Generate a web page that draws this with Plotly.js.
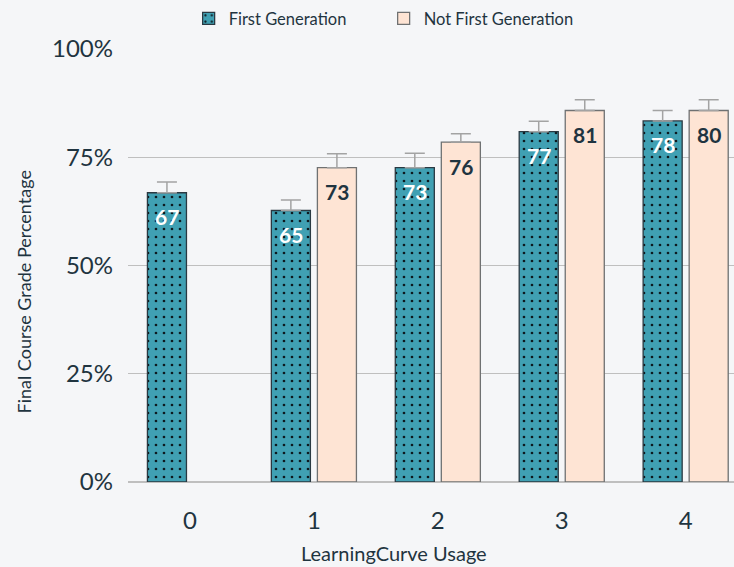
<!DOCTYPE html>
<html>
<head>
<meta charset="utf-8">
<script src="https://cdn.plot.ly/plotly-3.0.1.min.js"></script>
<style>html,body{margin:0;padding:0;background:#f5f6f8;overflow:hidden;}</style>
</head>
<body>
<div id="chart" style="width:734px;height:567px;"></div>
<script>
// Data
var categories = ['0', '1', '2', '3', '4'];
var firstGenValues = [66.8, 62.7, 72.6, 80.9, 83.4];
var firstGenErrors = [2.5, 2.4, 3.3, 2.4, 2.4];
var firstGenLabels = ['67', '65', '73', '77', '78'];
var notFirstGenValues = [null, 72.6, 78.5, 85.8, 85.8];
var notFirstGenErrors = [null, 3.2, 1.9, 2.5, 2.5];
var notFirstGenLabels = ['', '73', '76', '81', '80'];
var yTickVals = [0, 25, 50, 75, 100];
var yTickText = ['0%', '25%', '50%', '75%', '100%'];

var FONT = 'Lato, "Source Sans Pro", "Open Sans", sans-serif';
var DARK = '#1f3440';
var TEAL = '#40a0b3';

function zeros(a) { return a.map(function (v) { return v == null ? null : 0; }); }

var traceFG = {
  type: 'bar', name: 'First Generation', x: categories, y: firstGenValues,
  marker: {
    color: TEAL,
    line: {color: '#2a3942', width: 1.3},
    pattern: {shape: '.', fgcolor: '#0d1a20', bgcolor: TEAL, fillmode: 'replace', size: 8, solidity: 0.09}
  },
  error_y: {type: 'data', array: firstGenErrors, arrayminus: zeros(firstGenErrors), symmetric: false,
            color: '#a3a3a3', thickness: 1.5, width: 10},
  hoverinfo: 'skip'
};
var traceNFG = {
  type: 'bar', name: 'Not First Generation', x: categories, y: notFirstGenValues,
  marker: {color: '#fee4d4', line: {color: '#6f7172', width: 1.3}},
  error_y: {type: 'data', array: notFirstGenErrors, arrayminus: zeros(notFirstGenErrors), symmetric: false,
            color: '#a3a3a3', thickness: 1.5, width: 10},
  hoverinfo: 'skip'
};

var annotations = [];
categories.forEach(function (c, i) {
  if (firstGenValues[i] != null && firstGenLabels[i]) {
    annotations.push({x: c, y: firstGenValues[i], xref: 'x', yref: 'y', xshift: -23, yshift: -24,
      text: '<b>' + firstGenLabels[i] + '</b>', showarrow: false,
      font: {family: FONT, size: 21, color: '#ffffff'}, yanchor: 'middle'});
  }
  if (notFirstGenValues[i] != null && notFirstGenLabels[i]) {
    annotations.push({x: c, y: notFirstGenValues[i], xref: 'x', yref: 'y', xshift: 23, yshift: -24,
      text: '<b>' + notFirstGenLabels[i] + '</b>', showarrow: false,
      font: {family: FONT, size: 21, color: DARK}, yanchor: 'middle'});
  }
});
annotations.push({text: 'LearningCurve Usage', xref: 'paper', yref: 'paper', x: 0.439, y: -0.164,
  xanchor: 'center', yanchor: 'middle', showarrow: false, font: {family: FONT, size: 20, color: DARK}});
annotations.push({text: 'Final Course Grade Percentage', xref: 'paper', yref: 'paper', x: -0.17, y: 0.44,
  xanchor: 'center', yanchor: 'middle', textangle: -90, showarrow: false, font: {family: FONT, size: 18, color: DARK}});

var layout = {
  width: 734, height: 567,
  margin: {l: 128, r: 0, t: 49, b: 85},
  paper_bgcolor: '#f5f6f8', plot_bgcolor: '#f5f6f8',
  font: {family: FONT, color: DARK},
  barmode: 'group', bargap: 0.257, bargroupgap: 0.152,
  showlegend: true,
  legend: {orientation: 'h', xref: 'container', yref: 'container', x: 0.257, y: 0.967,
           xanchor: 'left', yanchor: 'middle', font: {family: FONT, size: 16.5, color: DARK},
           bgcolor: 'rgba(0,0,0,0)', entrywidth: 150, entrywidthmode: 'pixels'},
  xaxis: {type: 'category', categoryorder: 'array', categoryarray: categories,
          range: [-0.5, 4.39], showgrid: false, zeroline: false, showline: false,
          ticks: '', ticklabelstandoff: 22, tickfont: {family: FONT, size: 24, color: DARK}, fixedrange: true},
  yaxis: {range: [0, 100], tickvals: yTickVals, ticktext: yTickText, showgrid: true,
          gridcolor: '#bfbfbf', gridwidth: 1.2, zeroline: true, zerolinecolor: '#bfbfbf', zerolinewidth: 1.2,
          showline: false, ticks: '', ticklabelstandoff: 14,
          tickfont: {family: FONT, size: 24, color: DARK}, fixedrange: true},
  annotations: annotations
};

Plotly.newPlot('chart', [traceFG, traceNFG], layout, {displayModeBar: false, staticPlot: true});
</script>
</body>
</html>
